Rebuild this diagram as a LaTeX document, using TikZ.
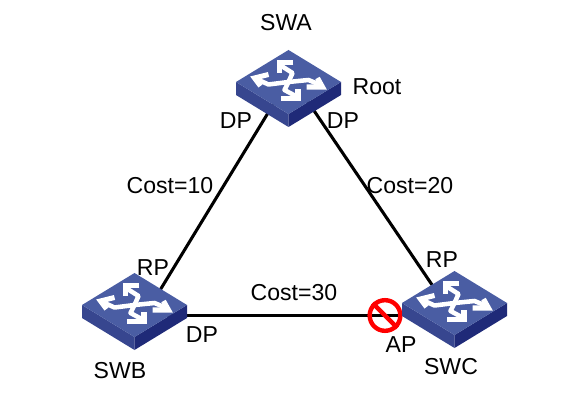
\documentclass[tikz,border=0pt]{standalone}
\usepackage{fontspec}
\setmainfont{Liberation Sans}
\tikzset{
  switchbase/.style ={draw=none, inner sep = 0pt, minimum width=79pt, minimum height=48pt},
  tag/.style ={inner sep = 0pt, font=\fontsize{17.3}{20}\selectfont},
  link/.style ={line width=2.3pt, black},
  stem/.style ={white, line width=3.4pt, line join=round},
  barb/.style ={white, line width=3.8pt, line join=miter},
  pics/switchicon/.style={code={
    \fill[fill=swleft] (-52.5,0) -- (0,32) -- (0,45) -- (-52.5,13) -- cycle;
    \fill[fill=swright] (52.5,0) -- (0,32) -- (0,45) -- (52.5,13) -- cycle;
    \fill[fill=swtop] (-52.5,0) -- (0,-32) -- (52.5,0) -- (0,32) -- cycle;
    % stems of the cross
    \draw[stem] (-7,-16) -- (4,-9) -- (0,0) -- (-4,8) -- (8,14.5);
    \draw[stem] (-32,-3) -- (-20,2.5) -- (0,0) -- (20,-2) -- (32,3);
    % four arrow heads
    \draw[barb] (4.8,-19.7) -- (-8.8,-19.7) -- (-8.8,-9.3);
    \draw[barb] (-7.5,16.3) -- (9.5,16.3) -- (9.5,7.3);
    \draw[barb] (-20,-7.5) -- (-34,-4) -- (-28,4);
    \draw[barb] (18,5) -- (34,5) -- (29,-4);
  }}
}
\definecolor{swtop}{HTML}{4A5DA3}
\definecolor{swleft}{HTML}{37468F}
\definecolor{swright}{HTML}{1F2A78}
\begin{document}
\begin{tikzpicture}[x=0.75pt,y=-0.75pt]
   \useasboundingbox (0,0) rectangle (581,402);

   \node[switchbase] (SWA) at (288.5,82) {};
   \node[switchbase] (SWB) at (134.5,305) {};
   \node[switchbase] (SWC) at (454.5,303) {};

   \coordinate (Apl) at (282,90);
   \coordinate (Apr) at (300,90);
   \coordinate (Bp) at (151,305);
   \coordinate (Bq) at (150,315.5);
   \coordinate (Cp) at (445,304);
   \coordinate (Cq) at (400,315.5);

   \draw[link] (Apl) to (Bp);
   \draw[link] (Apr) to (Cp);
   \draw[link] (Bq) to (Cq);

   \node[circle, draw=red, line width=3.3pt, inner sep=0pt, minimum size=23pt] (block) at (385,315.5) {};
   \draw[red, line width=3.3pt] (block.135) to (block.-45);

   \foreach \name in {SWA,SWB,SWC}
     \pic at (\name) {switchicon};

   \node[tag] (nameA) at (286,23) {SWA};
   \node[tag] (nameB) at (120,371) {SWB};
   \node[tag] (nameC) at (451,367) {SWC};
   \node[tag] (root) at (377,87) {Root};
   \node[tag] (dpAl) at (236,121) {DP};
   \node[tag] (dpAr) at (343,121) {DP};
   \node[tag] (dpB) at (202,335) {DP};
   \node[tag] (rpB) at (153,268) {RP};
   \node[tag] (rpC) at (442,260) {RP};
   \node[tag] (apC) at (401,345) {AP};
   \node[tag] (costAB) at (170,186) {Cost=10};
   \node[tag] (costAC) at (410,186) {Cost=20};
   \node[tag] (costBC) at (294,293) {Cost=30};
\end{tikzpicture}
\end{document}
